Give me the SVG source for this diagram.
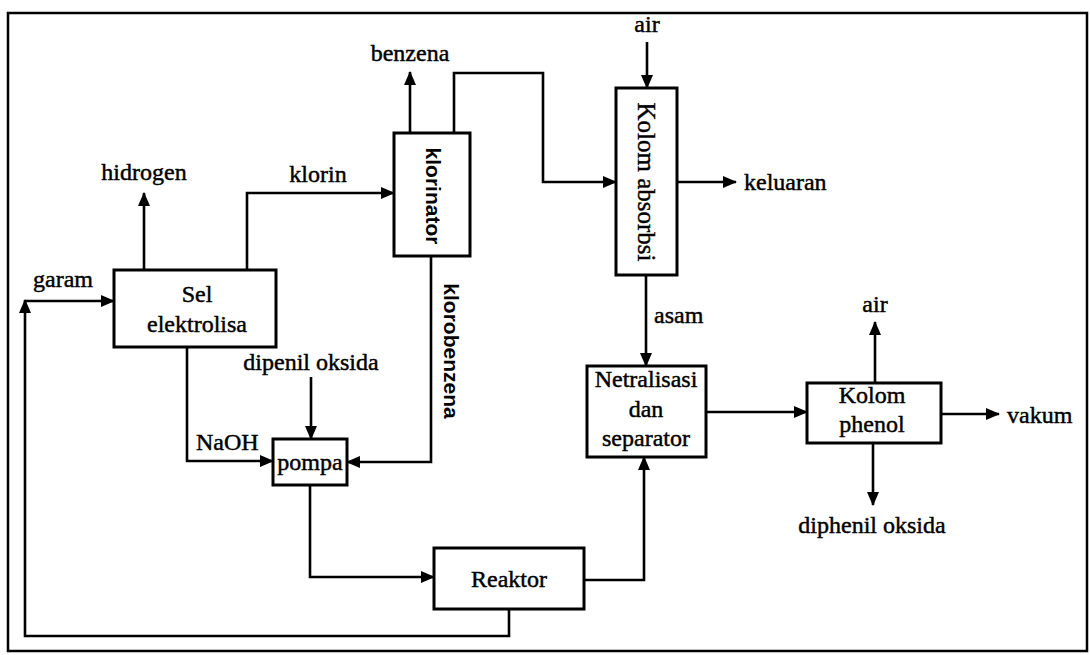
<svg xmlns="http://www.w3.org/2000/svg" width="1090" height="655" viewBox="0 0 1090 655">
<defs>
<marker id="ah" markerUnits="userSpaceOnUse" markerWidth="14" markerHeight="12" refX="13" refY="6" orient="auto">
<path d="M0,0 L14,6 L0,12 z" fill="#000"/>
</marker>
<style>
.box{fill:#fff;stroke:#000;stroke-width:3}
.ln{fill:none;stroke:#000;stroke-width:2.6;marker-end:url(#ah)}
.t{font-family:"Liberation Serif","Times New Roman",serif;font-size:24px;fill:#000;stroke:#000;stroke-width:0.45}
.c{text-anchor:middle}
.rs{font-family:"Liberation Sans",Arial,sans-serif;font-weight:bold;font-size:21px;fill:#000;text-anchor:middle}
.rt{font-family:"Liberation Serif","Times New Roman",serif;font-size:25px;fill:#000;stroke:#000;stroke-width:0.4;text-anchor:middle}
</style>
</defs>
<rect x="8" y="13" width="1079" height="638" fill="none" stroke="#000" stroke-width="2.5"/>
<g id="connectors">
<path class="ln" d="M25,301 L114,301"/>
<path class="ln" d="M509,609 L509,636 L25,636 L25,300"/>
<path class="ln" d="M144,270 L144,193"/>
<path class="ln" d="M247,270 L247,193 L394,193"/>
<path class="ln" d="M410,133 L410,72"/>
<path class="ln" d="M454,133 L454,73 L543,73 L543,182 L616,182"/>
<path class="ln" d="M647,42 L647,88"/>
<path class="ln" d="M677,182 L736,182"/>
<path class="ln" d="M646,275 L646,366"/>
<path class="ln" d="M187,347 L187,461 L273,461"/>
<path class="ln" d="M311,377 L311,439"/>
<path class="ln" d="M431,256 L431,462 L347,462"/>
<path class="ln" d="M310,485 L310,577 L434,577"/>
<path class="ln" d="M584,580 L644,580 L644,457"/>
<path class="ln" d="M706,412 L807,412"/>
<path class="ln" d="M875,383 L875,322"/>
<path class="ln" d="M941,414 L999,414"/>
<path class="ln" d="M873,443 L873,505"/>
</g>
<g id="labels">
<text class="t c" x="63" y="287">garam</text>
<text class="t c" x="144" y="180">hidrogen</text>
<text class="t c" x="318" y="182">klorin</text>
<text class="t c" x="410" y="61">benzena</text>
<text class="t c" x="647" y="32">air</text>
<text class="t" x="744" y="190">keluaran</text>
<text class="t" x="654" y="323">asam</text>
<text class="t" x="196" y="450">NaOH</text>
<text class="t c" x="311" y="370">dipenil oksida</text>
<text class="rs" transform="translate(451,351) rotate(90)" y="7">klorobenzena</text>
<text class="t c" x="875" y="312">air</text>
<text class="t" x="1007" y="423">vakum</text>
<text class="t c" x="872" y="533">diphenil oksida</text>
</g>
<g id="sel">
<rect class="box" x="114" y="270" width="162" height="77"/>
<text class="t c" x="197" y="302">Sel</text>
<text class="t c" x="197" y="332">elektrolisa</text>
</g>
<g id="klorinator">
<rect class="box" x="394" y="133" width="76" height="123"/>
<text class="rs" transform="translate(433,196) rotate(90)" y="7" font-size="22">klorinator</text>
</g>
<g id="kolom-absorbsi">
<rect class="box" x="616" y="88" width="61" height="187"/>
<text class="rt" transform="translate(646,182) rotate(90)" y="8">Kolom absorbsi</text>
</g>
<g id="pompa">
<rect class="box" x="273" y="439" width="74" height="46"/>
<text class="t c" x="310" y="470">pompa</text>
</g>
<g id="reaktor">
<rect class="box" x="434" y="548" width="150" height="61"/>
<text class="t c" x="509" y="587">Reaktor</text>
</g>
<g id="netralisasi">
<rect class="box" x="587" y="366" width="119" height="91"/>
<text class="t c" x="646" y="387">Netralisasi</text>
<text class="t c" x="646" y="417">dan</text>
<text class="t c" x="646" y="446">separator</text>
</g>
<g id="kolom-phenol">
<rect class="box" x="807" y="383" width="134" height="60"/>
<text class="t c" x="872" y="403">Kolom</text>
<text class="t c" x="872" y="432">phenol</text>
</g>
</svg>
